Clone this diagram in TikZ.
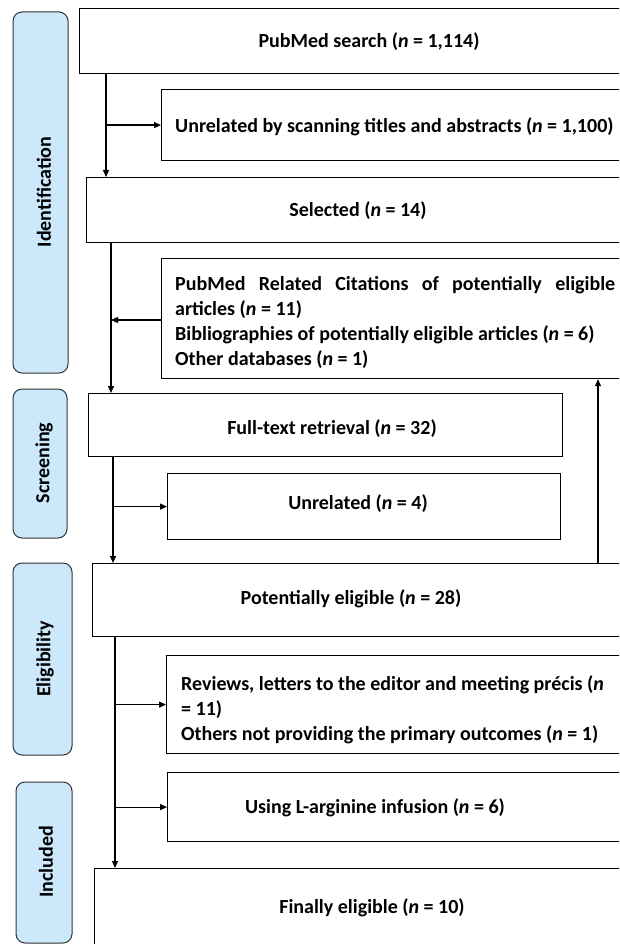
\documentclass[tikz,border=0pt]{standalone}
\usepackage{fontspec}
\setmainfont{Carlito}
\usetikzlibrary{arrows.meta}
\begin{document}
\begin{tikzpicture}[x=1pt,y=-1pt,
  font=\fontsize{20}{25}\selectfont\bfseries,
  box/.style={draw=black, line width=1.2pt, rectangle, inner sep=0pt, anchor=north west},
  pill/.style={draw=black!80, fill=pillblue, line width=1pt, rounded corners=9pt},
  plabel/.style={rotate=90, anchor=center},
  txt/.style={anchor=center, inner sep=0pt},
  ltxt/.style={anchor=north west, inner sep=0pt, align=left},
  arr/.style={line width=1.2pt, -{Triangle[length=7pt,width=6pt]}},
  ln/.style={line width=1.2pt}
]
\definecolor{pillblue}{HTML}{CCE9FB}
\useasboundingbox (0,0) rectangle (619,944);
\clip (0,0) rectangle (619,944);

% phase pills
\draw[pill] (13,12) rectangle (68,373);
\draw[pill] (13,389) rectangle (67,538);
\draw[pill] (13,563) rectangle (72,755);
\draw[pill] (16,782) rectangle (72,943);
\node[plabel] (pid) at (44,192) {Identification};
\node[plabel] (psc) at (44,463) {Screening};
\node[plabel] (pel) at (45,659) {Eligibility};
\node[plabel] (pin) at (46,862) {Included};

% boxes
\node[box, minimum width=580pt, minimum height=65pt] (search) at (79,8) {};
\node[box, minimum width=480pt, minimum height=71pt] (unrel1) at (161,89) {};
\node[box, minimum width=560pt, minimum height=65pt] (selected) at (86,177) {};
\node[box, minimum width=480pt, minimum height=120pt] (related) at (161,258) {};
\node[box, minimum width=474pt, minimum height=63pt] (fulltext) at (88,393) {};
\node[box, minimum width=393pt, minimum height=66pt] (unrel4) at (167,473) {};
\node[box, minimum width=560pt, minimum height=73pt] (poteleg) at (92,563) {};
\node[box, minimum width=480pt, minimum height=98pt] (reviews) at (166,655) {};
\node[box, minimum width=480pt, minimum height=69pt] (using) at (167,772) {};
\node[box, minimum width=560pt, minimum height=130pt] (final) at (94,868) {};

% texts
\node[txt] (t1) at (369,42) {PubMed search (\textit{n} = 1,114)};
\node[txt, anchor=west] (t2) at (175,127) {Unrelated by scanning titles and abstracts (\textit{n} = 1,100)};
\node[txt] (t3) at (358,211) {Selected (\textit{n} = 14)};
\node[ltxt] (t4) at (175,276) {\makebox[440pt][s]{PubMed Related Citations of potentially eligible}\\
articles (\textit{n} = 11)\\
Bibliographies of potentially eligible articles (\textit{n} = 6)\\
Other databases (\textit{n} = 1)};
\node[txt] (t5) at (332,429) {Full-text retrieval (\textit{n} = 32)};
\node[txt] (t6) at (358,504) {Unrelated (\textit{n} = 4)};
\node[txt] (t7) at (351,599) {Potentially eligible (\textit{n} = 28)};
\node[ltxt] (t8) at (181,675) {Reviews, letters to the editor and meeting précis (\textit{n}\\
= 11)\\
Others not providing the primary outcomes (\textit{n} = 1)};
\node[txt] (t9) at (375,808) {Using L-arginine infusion (\textit{n} = 6)};
\node[txt] (t10) at (372,908) {Finally eligible (\textit{n} = 10)};

% connectors
\coordinate (xa) at (106,0);
\coordinate (xb) at (111,0);
\coordinate (xc) at (113,0);
\coordinate (xd) at (115,0);
\coordinate (xu) at (598,0);
\coordinate (yr) at (0,320);

\draw[arr] (search.south -| xa) -- (selected.north -| xa);
\draw[arr] (xa |- unrel1.west) -- (unrel1.west);
\draw[arr] (selected.south -| xb) -- (fulltext.north -| xb);
\draw[arr] (related.west |- yr) -- (xb |- yr);
\draw[arr] (fulltext.south -| xc) -- (poteleg.north -| xc);
\draw[arr] (xc |- unrel4.west) -- (unrel4.west);
\draw[arr] (poteleg.south -| xd) -- (final.north -| xd);
\draw[arr] (xd |- reviews.west) -- (reviews.west);
\draw[arr] (xd |- using.west) -- (using.west);
\draw[arr] (poteleg.north -| xu) -- (related.south -| xu);
\end{tikzpicture}
\end{document}
